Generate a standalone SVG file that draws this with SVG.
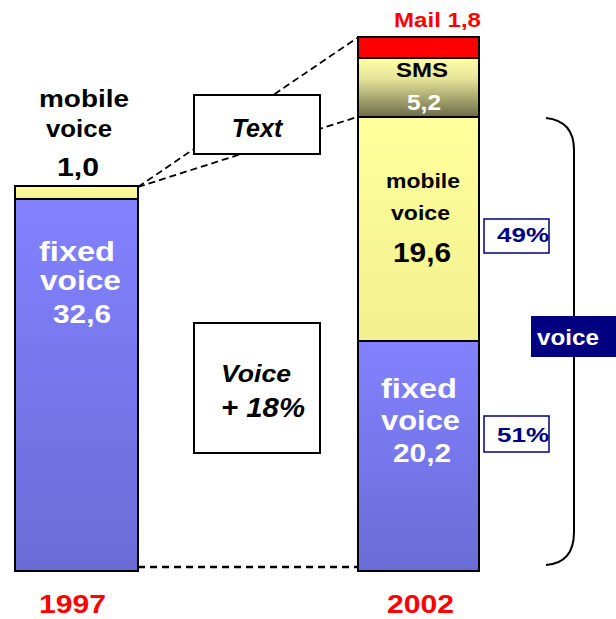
<svg xmlns="http://www.w3.org/2000/svg" width="616" height="619" viewBox="0 0 616 619">
<defs>
<linearGradient id="gBlue" x1="0" y1="0" x2="0" y2="1"><stop offset="0" stop-color="#8282ff"/><stop offset="1" stop-color="#6a6cd6"/></linearGradient>
<linearGradient id="gYel" x1="0" y1="0" x2="0" y2="1"><stop offset="0" stop-color="#ffff9c"/><stop offset="1" stop-color="#f2f08e"/></linearGradient>
<linearGradient id="gSms" x1="0" y1="0" x2="0" y2="1"><stop offset="0" stop-color="#ffffa6"/><stop offset="0.35" stop-color="#e6e49a"/><stop offset="1" stop-color="#6c6c46"/></linearGradient>
<style>
.b{font-family:"Liberation Sans",Arial,sans-serif;font-weight:bold}
.bi{font-family:"Liberation Sans",Arial,sans-serif;font-weight:bold;font-style:italic}
.bar{stroke:#000;stroke-width:2}
.box{fill:#fff;stroke:#000;stroke-width:2}
.pbox{fill:#fff;stroke:#000080;stroke-width:1.5}
.dash{fill:none;stroke:#000;stroke-width:1.8;stroke-dasharray:7 4}
.w{fill:#fff}
.k{fill:#000}
.r{fill:#ff0000}
.n{fill:#000080}
</style>
</defs>

<g id="connectors">
<line class="dash" x1="138" y1="187" x2="357" y2="38"/>
<line class="dash" x1="138" y1="187" x2="357" y2="117"/>
<line x1="138" y1="567" x2="370" y2="567" stroke="#000" stroke-width="2.5" stroke-dasharray="7 5"/>
<path d="M546,118 Q574,121 574,150 L574,532 Q574,563 546,565" fill="none" stroke="#000" stroke-width="2"/>
</g>

<g id="bar1997">
<rect class="bar" x="15" y="199" width="123" height="372" fill="url(#gBlue)"/>
<rect class="bar" x="15" y="186" width="123" height="13" fill="url(#gYel)"/>
<text class="b w" x="39" y="261" font-size="28" textLength="76" lengthAdjust="spacingAndGlyphs">fixed</text>
<text class="b w" x="40" y="290" font-size="28" textLength="81" lengthAdjust="spacingAndGlyphs">voice</text>
<text class="b w" x="53" y="323" font-size="26" textLength="58" lengthAdjust="spacingAndGlyphs">32,6</text>
</g>

<g id="label-mobile-1997">
<text class="b k" x="39" y="107" font-size="23" textLength="90" lengthAdjust="spacingAndGlyphs">mobile</text>
<text class="b k" x="46" y="137" font-size="23" textLength="66" lengthAdjust="spacingAndGlyphs">voice</text>
<text class="b k" x="57" y="176" font-size="25" textLength="42" lengthAdjust="spacingAndGlyphs">1,0</text>
</g>

<g id="bar2002">
<rect class="bar" x="358" y="341" width="121" height="230" fill="url(#gBlue)"/>
<rect class="bar" x="358" y="117" width="121" height="224" fill="url(#gYel)"/>
<rect class="bar" x="358" y="58" width="121" height="59" fill="url(#gSms)"/>
<rect class="bar" x="358" y="37" width="121" height="21" fill="#ff0000"/>
<text class="b k" x="396" y="77" font-size="21" textLength="52" lengthAdjust="spacingAndGlyphs">SMS</text>
<text class="b w" x="407" y="110" font-size="22" textLength="34" lengthAdjust="spacingAndGlyphs">5,2</text>
<text class="b k" x="386" y="188" font-size="21" textLength="74" lengthAdjust="spacingAndGlyphs">mobile</text>
<text class="b k" x="391" y="220" font-size="21" textLength="59" lengthAdjust="spacingAndGlyphs">voice</text>
<text class="b k" x="393" y="262" font-size="28" textLength="58" lengthAdjust="spacingAndGlyphs">19,6</text>
<text class="b w" x="381" y="398" font-size="28" textLength="76" lengthAdjust="spacingAndGlyphs">fixed</text>
<text class="b w" x="381" y="430" font-size="28" textLength="79" lengthAdjust="spacingAndGlyphs">voice</text>
<text class="b w" x="393" y="462" font-size="26" textLength="58" lengthAdjust="spacingAndGlyphs">20,2</text>
</g>

<g id="label-mail">
<text class="b r" x="394" y="27" font-size="20" textLength="87" lengthAdjust="spacingAndGlyphs">Mail 1,8</text>
</g>

<g id="box-text">
<rect class="box" x="194" y="95" width="126" height="59"/>
<text class="bi k" x="257" y="137" font-size="25" text-anchor="middle">Text</text>
</g>

<g id="box-voice">
<rect class="box" x="194" y="323" width="126" height="130"/>
<text class="bi k" x="221" y="382" font-size="24" textLength="70" lengthAdjust="spacingAndGlyphs">Voice</text>
<text class="bi k" x="221" y="417" font-size="28" textLength="84" lengthAdjust="spacingAndGlyphs">+ 18%</text>
</g>

<g id="pct49">
<rect class="pbox" x="484" y="219" width="65" height="34"/>
<text class="b n" x="497" y="242" font-size="21" textLength="52" lengthAdjust="spacingAndGlyphs">49%</text>
</g>

<g id="pct51">
<rect class="pbox" x="484" y="416" width="65" height="36"/>
<text class="b n" x="497" y="442" font-size="21" textLength="52" lengthAdjust="spacingAndGlyphs">51%</text>
</g>

<g id="voice-tag">
<rect x="531" y="316" width="85" height="41" fill="#000080"/>
<text class="b w" x="537" y="345" font-size="22" textLength="62" lengthAdjust="spacingAndGlyphs">voice</text>
</g>

<g id="year1997">
<text class="b r" x="39" y="613" font-size="25" textLength="67" lengthAdjust="spacingAndGlyphs">1997</text>
</g>
<g id="year2002">
<text class="b r" x="387" y="613" font-size="25" textLength="67" lengthAdjust="spacingAndGlyphs">2002</text>
</g>
</svg>
